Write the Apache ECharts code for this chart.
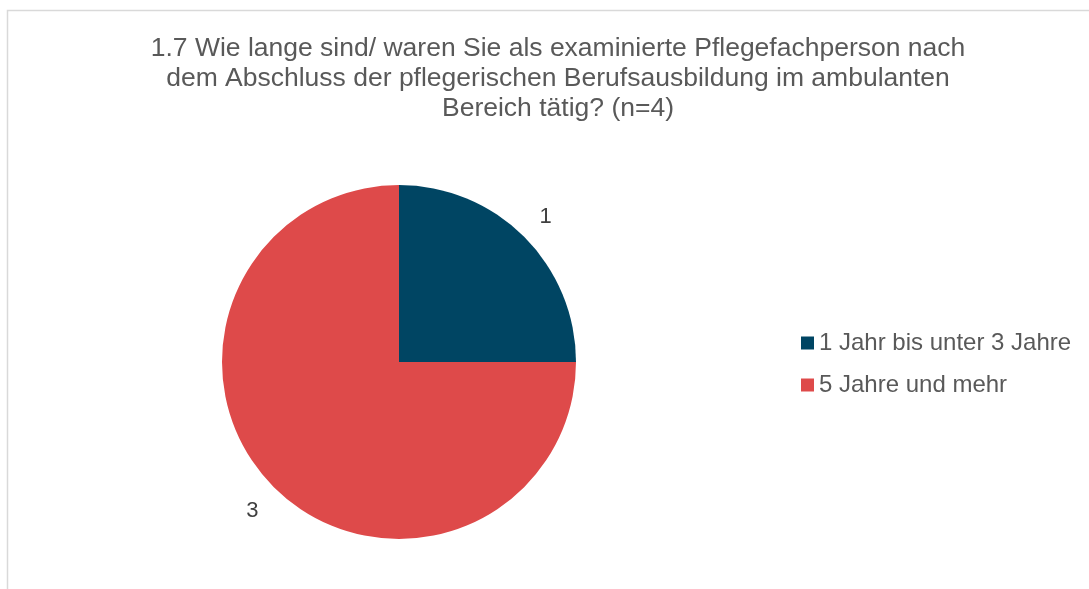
<!DOCTYPE html>
<html>
<head>
<meta charset="utf-8">
<script src="https://cdn.jsdelivr.net/npm/echarts@6/dist/echarts.min.js"></script>
<style>
  html, body { margin: 0; padding: 0; background: #fff; }
  #main { width: 1089px; height: 589px; }
</style>
</head>
<body>
<div id="main"></div>
<script>
const titleLines = [
  '1.7 Wie lange sind/ waren Sie als examinierte Pflegefachperson nach',
  'dem Abschluss der pflegerischen Berufsausbildung im ambulanten',
  'Bereich tätig? (n=4)'
];
const categories = ['1 Jahr bis unter 3 Jahre', '5 Jahre und mehr'];
const counts = [1, 3];
const colors = ['#004563', '#DE4A4A'];

const pieData = categories.map((name, i) => ({
  name: name,
  value: counts[i],
  itemStyle: { color: colors[i] }
}));

const chart = echarts.init(document.getElementById('main'));
chart.setOption({
  animation: false,
  textStyle: { fontFamily: 'Liberation Sans, Arial, sans-serif' },
  graphic: [{
    type: 'rect',
    left: 5,
    top: 8,
    shape: { width: 1200, height: 700 },
    style: { fill: 'none', stroke: '#d9d9d9', lineWidth: 1.5 },
    silent: true
  }],
  title: {
    text: titleLines.join('\n'),
    left: 553,
    textAlign: 'center',
    top: 29,
    textStyle: {
      fontSize: 26.5,
      fontWeight: 'normal',
      color: '#595959',
      lineHeight: 30
    }
  },
  legend: {
    orient: 'vertical',
    left: 796,
    top: 326,
    itemWidth: 13,
    itemHeight: 13,
    itemGap: 18,
    icon: 'rect',
    data: categories,
    textStyle: { fontSize: 24, color: '#595959' }
  },
  series: [
    {
      type: 'pie',
      center: [399, 362],
      radius: [0, 177],
      startAngle: 90,
      clockwise: true,
      data: pieData,
      label: { show: false },
      labelLine: { show: false },
      itemStyle: { borderWidth: 0 },
      emphasis: { disabled: true }
    },
    {
      type: 'pie',
      center: [399, 364],
      radius: [177, 232],
      startAngle: 90,
      clockwise: true,
      silent: true,
      data: categories.map((name, i) => ({ name: name, value: counts[i] })),
      itemStyle: { color: 'transparent' },
      label: {
        show: true,
        position: 'inside',
        formatter: '{c}',
        fontSize: 22,
        color: '#404040'
      },
      labelLine: { show: false },
      emphasis: { disabled: true }
    }
  ]
});
</script>
</body>
</html>
